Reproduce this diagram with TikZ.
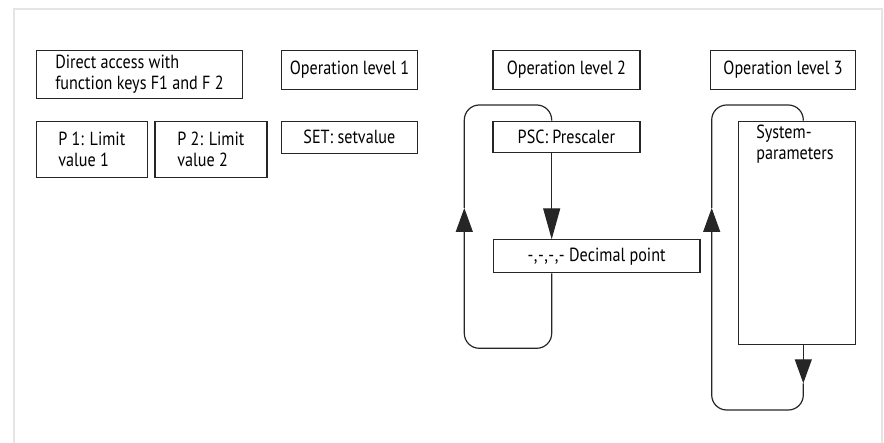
\documentclass[tikz,border=0pt]{standalone}
\usepackage{fontspec}
\setmainfont[FakeStretch=0.85,Ligatures=TeXOff]{PT Sans}
\usetikzlibrary{arrows.meta,calc,positioning}

\begin{document}
\begin{tikzpicture}[x=1pt,y={(0pt,-1pt)},
  box/.style={draw=black!85,line width=1.2pt,inner sep=0pt,align=left,anchor=north west,
    font=\fontsize{19}{21}\selectfont},
  lbl/.style={inner sep=0pt,align=left,font=\fontsize{19}{21}\selectfont},
  flow/.style={draw=black!85,line width=1.2pt,rounded corners=15pt},
  tip/.style={-{Triangle[length=24pt,width=17pt]}},
  longtip/.style={-{Triangle[length=31pt,width=17pt]}}]
\useasboundingbox (0,0) rectangle (884,443);
\draw [black!10,line width=2pt] (14,450) -- (14,9) -- (882,9) -- (882,450);
\node [box,minimum width=206.3pt,minimum height=48pt] (direct) at (35.7,49.7) {Direct access with\\function keys F1 and F 2};
\node [box,minimum width=135.7pt,minimum height=39pt] (lev1) at (281,49.7) {Operation level 1};
\node [box,minimum width=111pt,minimum height=56pt] (lim1) at (35.7,120.7) {P 1: Limit\\value 1};
\node [box,minimum width=112pt,minimum height=56pt] (lim2) at (154.3,120.7) {P 2: Limit\\value 2};
\node [box,minimum width=135.7pt,minimum height=32pt] (setv) at (281,120.7) {SET: setvalue};
\node [box,minimum width=147pt,minimum height=39pt] (lev2) at (492.3,49.7) {Operation level 2};
\node [box,minimum width=145pt,minimum height=39pt] (lev3) at (710,49.7) {Operation level 3};
\node [box,minimum width=147pt,minimum height=31.5pt] (psc) at (492.3,120.7) {PSC: Prescaler};
\node [box,minimum width=206.6pt,minimum height=33pt] (dec) at (492.7,239.3) {\addfontfeatures{Kerning=Off}-\kern0.5pt,\kern0.5pt-\kern0.5pt,\kern0.5pt-\kern0.5pt,\kern0.5pt- Decimal point};
\node [box,minimum width=117.3pt,minimum height=223.6pt] (sys) at (737.7,120.7) {};
\node [lbl,anchor=north] (systxt) at ($(sys.north)+(-2,4)$) {System-\\parameters};
\coordinate (k1) at (551.7,105);
\coordinate (l1top) at (464.3,105);
\coordinate (l1bot) at (464.3,348.3);
\coordinate (l1up) at (464.3,208);
\coordinate (k2) at (803.3,105);
\coordinate (l2top) at (711.7,105);
\coordinate (l2bot) at (711.7,410);
\coordinate (l2up) at (711.7,208);
\coordinate (d2) at (803.3,383.3);
\draw [flow,longtip] (psc.south -| k1) -- (dec.north -| k1);
\draw [flow,tip] (dec.south -| k1) |- (l1bot) -- (l1up);
\draw [flow] (l1up) -- (l1top) -| (psc.north -| k1);
\draw [flow,tip] (sys.south -| k2) -- (d2);
\draw [flow,tip] (d2) |- (l2bot) -- (l2up);
\draw [flow] (l2up) -- (l2top) -| (sys.north -| k2);
\end{tikzpicture}
\end{document}
